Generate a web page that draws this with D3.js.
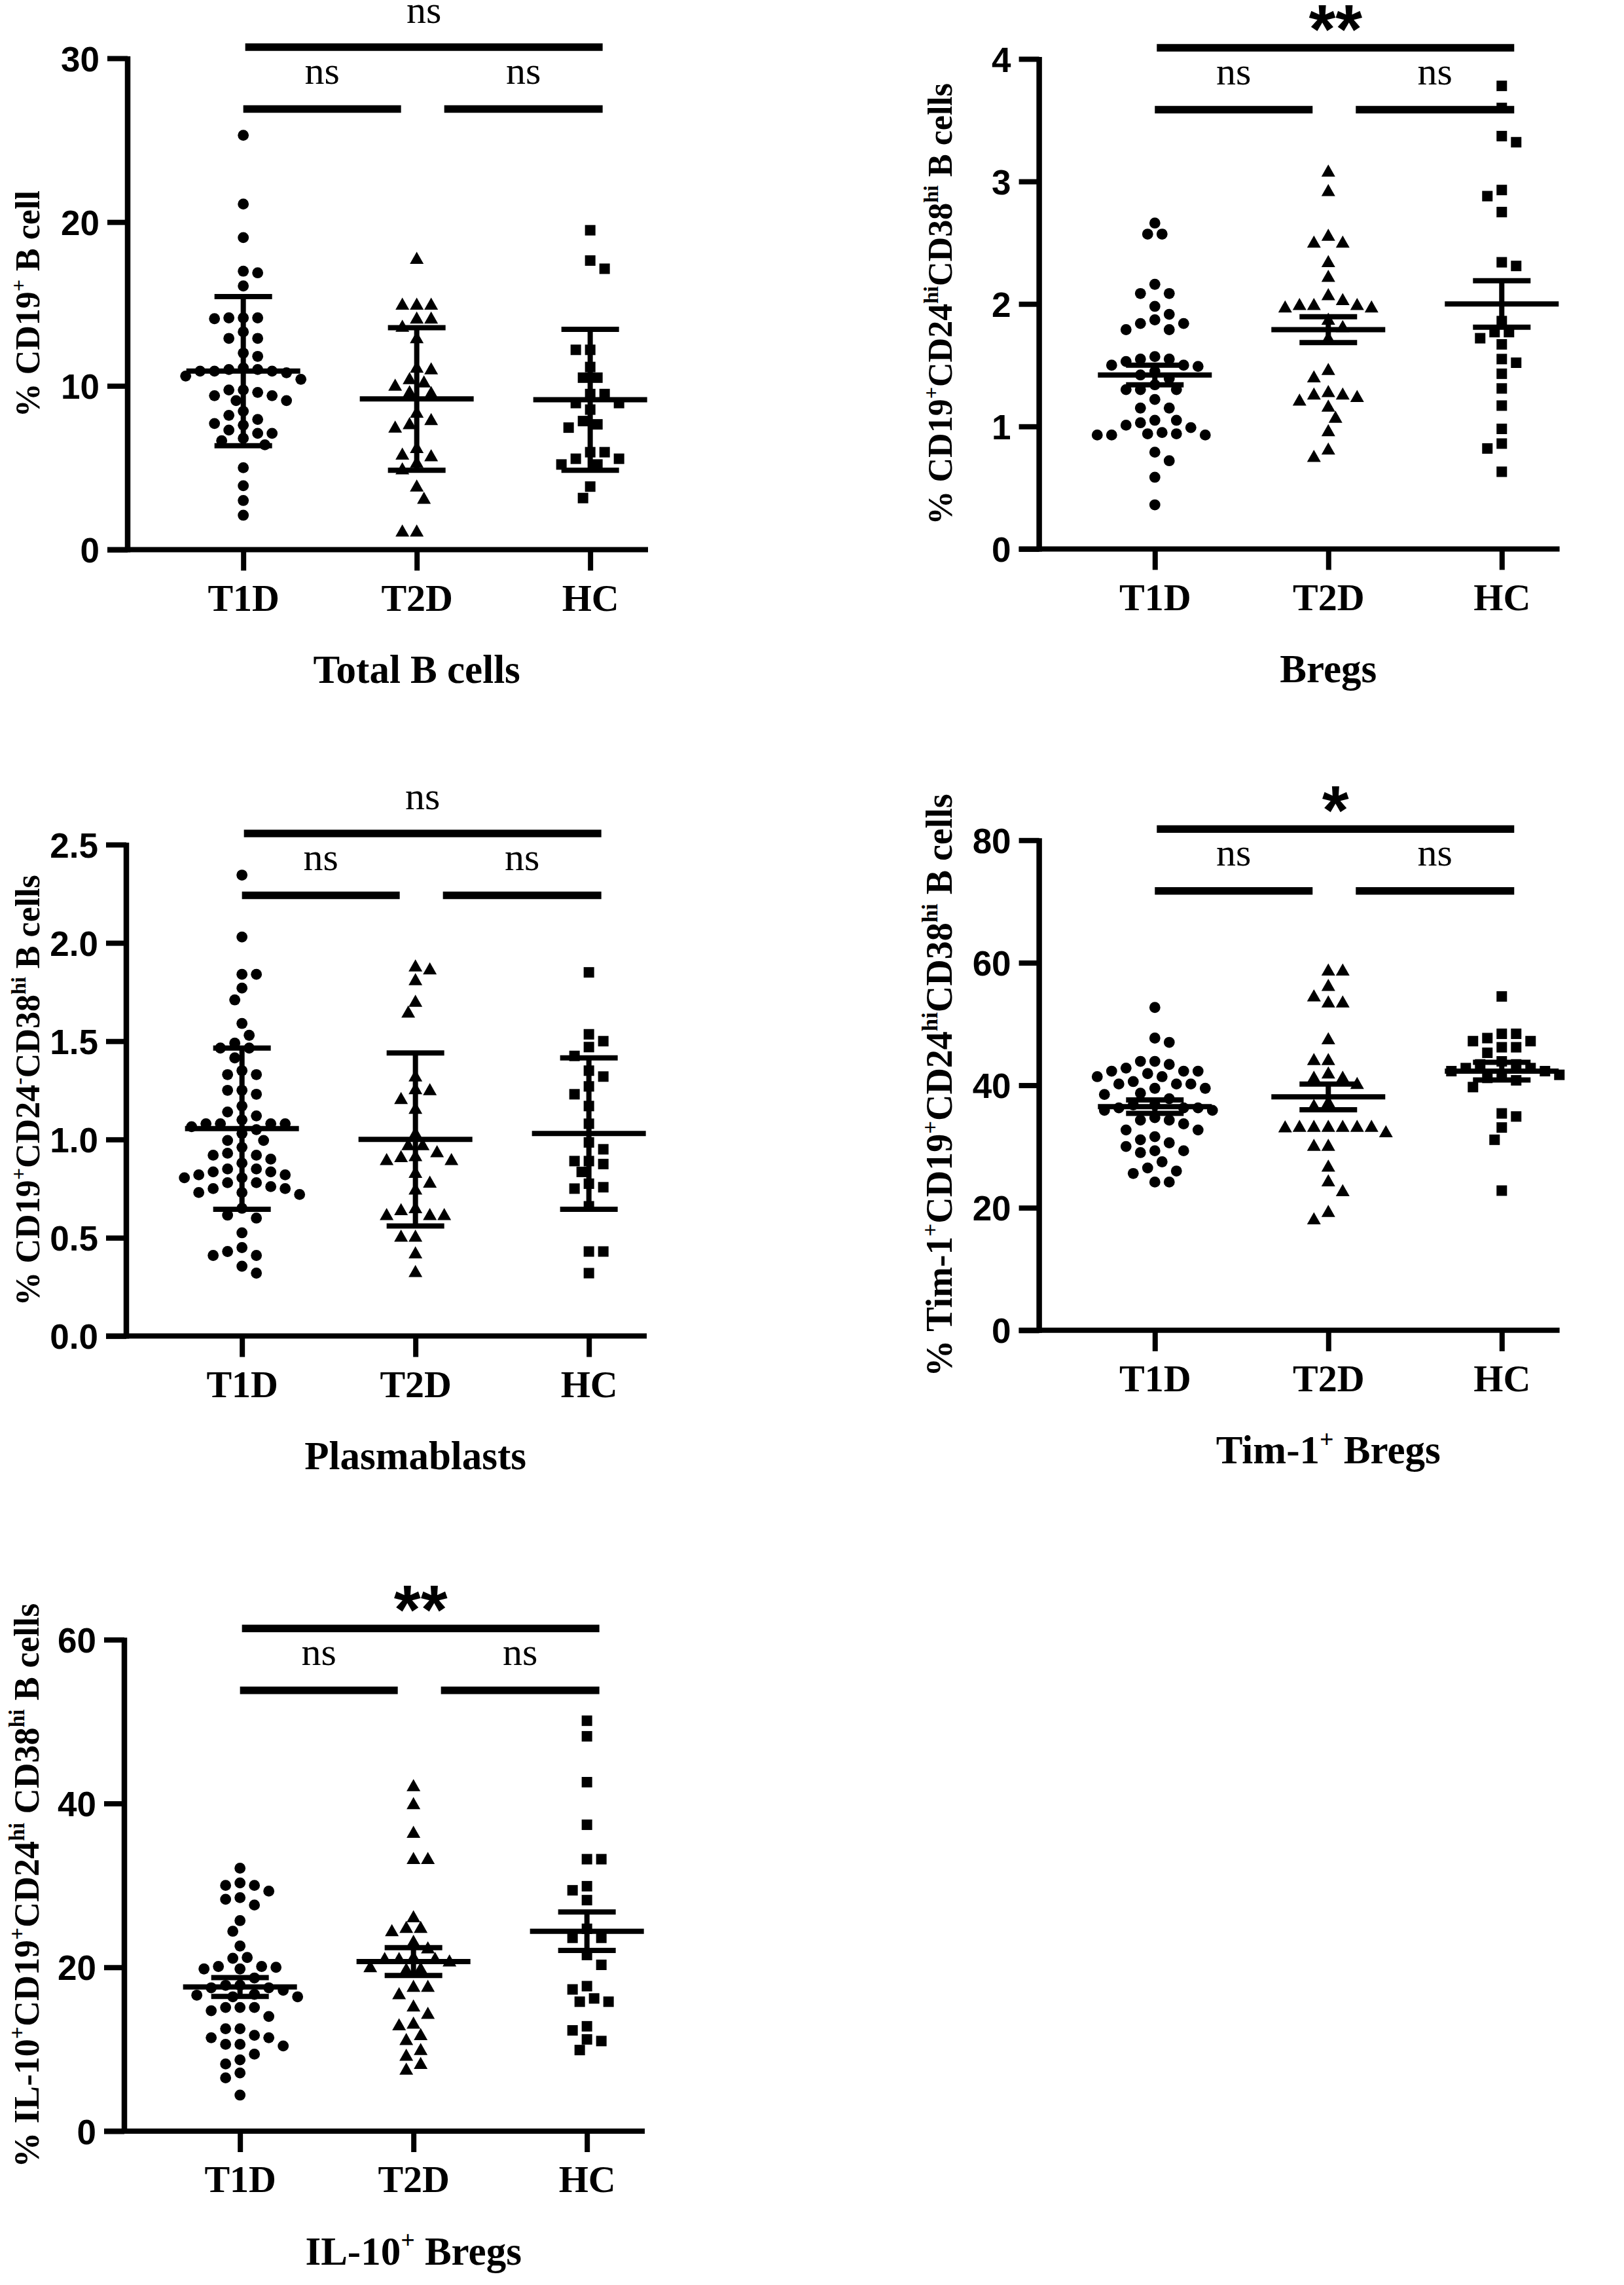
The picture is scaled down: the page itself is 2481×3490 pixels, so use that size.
<!DOCTYPE html>
<html><head><meta charset="utf-8">
<script src="https://cdn.jsdelivr.net/npm/d3@7"></script>
<style>body{margin:0;background:#fff}svg{display:block}</style>
</head><body>
<svg id="c" width="2481" height="3490"></svg>
<script>
// ---------- DATA ----------
const groups = ["T1D", "T2D", "HC"];
const shapes = ["circle", "triangle", "square"];

// Panel 1: Total B cells (% CD19+ B cell), mean ± SD
const totalB_T1D = [25.3, 21.1, 19.05, 17.0, 16.9, 16.1, 14.15, 14.15, 14.15, 14.1, 13.3, 12.9, 12.9, 12.0, 11.8, 11.1, 11.0, 10.9, 10.9, 10.8, 10.9, 11.0, 10.6, 10.4, 9.75, 9.75, 9.6, 9.4, 9.4, 9.1, 9.1, 8.45, 8.2, 7.95, 7.7, 7.6, 7.3, 7.1, 7.1, 6.8, 6.65, 6.4, 5.0, 3.9, 3.0, 2.1];
const totalB_T2D = [17.75, 14.95, 14.95, 14.95, 14.1, 14.1, 13.6, 12.9, 11.1, 11.0, 10.4, 10.2, 10.0, 9.6, 9.55, 8.35, 7.9, 7.65, 7.45, 6.2, 5.8, 5.7, 5.3, 4.9, 3.85, 3.1, 1.1, 1.1];
const totalB_HC = [19.5, 17.65, 17.15, 12.2, 12.2, 11.15, 10.5, 10.5, 9.5, 9.5, 8.95, 8.95, 8.55, 7.85, 7.65, 7.45, 5.95, 5.95, 5.55, 5.55, 5.2, 5.2, 3.85, 3.15];
const totalB_mean = [10.9, 9.2, 9.15];
const totalB_err = [4.55, 4.35, 4.3];
const totalB_ticks = [0, 10, 20, 30];

// Panel 2: Bregs, mean ± SEM
const bregs_T1D = [2.66, 2.57, 2.57, 2.16, 2.085, 2.085, 1.98, 1.915, 1.87, 1.84, 1.84, 1.79, 1.79, 1.57, 1.55, 1.55, 1.53, 1.5, 1.49, 1.5, 1.45, 1.42, 1.39, 1.34, 1.30, 1.30, 1.30, 1.22, 1.15, 1.15, 1.05, 1.05, 1.03, 1.01, 0.99, 0.93, 0.93, 0.94, 0.94, 0.95, 0.93, 0.79, 0.72, 0.585, 0.36];
const bregs_T2D = [3.08, 2.92, 2.555, 2.5, 2.5, 2.34, 2.22, 2.07, 2.03, 1.99, 1.99, 1.99, 1.97, 1.97, 1.87, 1.81, 1.72, 1.46, 1.40, 1.28, 1.26, 1.26, 1.24, 1.21, 1.16, 1.07, 0.96, 0.81, 0.75];
const bregs_HC = [3.78, 3.6, 3.37, 3.32, 2.93, 2.88, 2.75, 2.34, 2.31, 1.86, 1.77, 1.77, 1.72, 1.67, 1.55, 1.52, 1.43, 1.31, 1.17, 0.98, 0.86, 0.82, 0.63];
const bregs_mean = [1.42, 1.79, 2.0];
const bregs_err = [0.08, 0.105, 0.19];
const bregs_ticks = [0, 1, 2, 3, 4];

// Panel 3: Plasmablasts, mean ± SD
const plasma_T1D = [2.345, 2.03, 1.84, 1.84, 1.77, 1.71, 1.59, 1.53, 1.49, 1.465, 1.465, 1.415, 1.35, 1.33, 1.33, 1.25, 1.23, 1.25, 1.17, 1.14, 1.12, 1.10, 1.08, 1.08, 1.08, 1.08, 1.05, 1.065, 1.03, 0.995, 0.995, 0.96, 0.93, 0.92, 0.92, 0.9, 0.88, 0.85, 0.85, 0.835, 0.835, 0.82, 0.82, 0.805, 0.805, 0.78, 0.78, 0.76, 0.75, 0.75, 0.73, 0.73, 0.72, 0.65, 0.615, 0.6, 0.525, 0.45, 0.43, 0.41, 0.41, 0.355, 0.32];
const plasma_T2D = [1.88, 1.865, 1.81, 1.70, 1.645, 1.32, 1.255, 1.25, 1.205, 1.155, 1.03, 0.97, 0.97, 0.935, 0.91, 0.915, 0.895, 0.895, 0.83, 0.78, 0.745, 0.65, 0.64, 0.615, 0.615, 0.615, 0.505, 0.505, 0.42, 0.325];
const plasma_HC = [1.85, 1.535, 1.5, 1.47, 1.425, 1.35, 1.32, 1.27, 1.23, 1.17, 1.08, 0.985, 0.95, 0.89, 0.89, 0.875, 0.835, 0.775, 0.75, 0.757, 0.66, 0.43, 0.43, 0.32];
const plasma_mean = [1.055, 1.0, 1.03];
const plasma_err = [0.41, 0.44, 0.385];
const plasma_ticks = [0, 0.5, 1.0, 1.5, 2.0, 2.5];

// Panel 4: Tim-1+ Bregs, mean ± SEM
const tim_T1D = [52.7, 47.7, 47.0, 43.9, 43.9, 43.4, 42.8, 42.3, 42.3, 42.3, 41.9, 41.4, 41.4, 40.6, 40.2, 40.2, 40.2, 39.5, 39.5, 38.7, 38.5, 37.8, 36.8, 36.8, 36.3, 36.3, 36.3, 35.9, 35.9, 34.7, 34.3, 34.3, 33.7, 32.7, 32.7, 31.6, 31.1, 30.6, 30.0, 29.3, 29.3, 29.0, 27.5, 26.5, 26.0, 25.6, 24.2, 24.2];
const tim_T2D = [58.7, 58.7, 56.2, 54.5, 53.5, 53.5, 47.5, 44.1, 44.1, 41.9, 41.2, 41.2, 40.2, 37.2, 36.6, 33.2, 33.2, 33.2, 33.2, 33.2, 33.2, 32.3, 33.1, 30.1, 30.1, 26.7, 24.3, 22.7, 19.3, 18.1];
const tim_HC = [54.5, 48.4, 48.4, 47.7, 47.2, 47.2, 46.2, 46.2, 45.3, 43.9, 43.4, 43.4, 42.8, 42.8, 42.3, 42.3, 41.7, 41.7, 41.2, 40.8, 39.7, 35.4, 34.9, 33.1, 31.1, 22.8];
const tim_mean = [36.5, 38.1, 42.3];
const tim_err = [1.1, 2.1, 1.45];
const tim_ticks = [0, 20, 40, 60, 80];

// Panel 5: IL-10+ Bregs, mean ± SEM
const il10_T1D = [32.1, 30.3, 30.0, 30.0, 29.3, 28.5, 28.3, 27.6, 25.7, 24.4, 22.6, 21.2, 21.1, 20.1, 20.1, 20.0, 19.8, 19.8, 18.7, 17.8, 17.8, 17.5, 17.5, 17.2, 16.7, 16.6, 16.4, 16.4, 15.1, 15.1, 15.1, 14.7, 14.0, 12.5, 12.5, 11.7, 11.4, 11.4, 10.6, 10.6, 10.4, 9.4, 8.7, 8.2, 7.1, 6.5, 4.4];
const il10_T2D = [42.1, 39.9, 36.4, 33.2, 33.2, 26.1, 24.8, 24.8, 24.4, 23.1, 22.3, 21.0, 21.0, 21.0, 21.2, 20.7, 20.0, 19.8, 19.7, 17.6, 17.6, 16.7, 15.2, 14.3, 13.1, 12.9, 11.7, 11.1, 9.9, 9.2, 8.2, 7.5];
const il10_HC = [50.1, 48.2, 42.6, 37.4, 33.2, 33.2, 29.9, 29.4, 28.2, 24.7, 23.6, 23.6, 21.5, 20.3, 17.7, 17.3, 16.2, 15.8, 15.8, 12.8, 12.3, 11.2, 11.0, 9.9];
const il10_mean = [17.6, 20.7, 24.4];
const il10_err = [1.15, 1.7, 2.35];
const il10_ticks = [0, 20, 40, 60];

// Text: [text, superscript?]
const yLabels = [
  [["% CD19", 0], ["+", 1], [" B cell", 0]],
  [["% CD19", 0], ["+", 1], ["CD24", 0], ["hi", 1], ["CD38", 0], ["hi", 1], [" B cells", 0]],
  [["% CD19", 0], ["+", 1], ["CD24", 0], ["-", 1], ["CD38", 0], ["hi", 1], [" B cells", 0]],
  [["% Tim-1", 0], ["+", 1], ["CD19", 0], ["+", 1], ["CD24", 0], ["hi", 1], ["CD38", 0], ["hi", 1], [" B cells", 0]],
  [["% IL-10", 0], ["+", 1], ["CD19", 0], ["+", 1], ["CD24", 0], ["hi", 1], [" CD38", 0], ["hi", 1], [" B cells", 0]]
];
const titles = [
  [["Total B cells", 0]],
  [["Bregs", 0]],
  [["Plasmablasts", 0]],
  [["Tim-1", 0], ["+", 1], [" Bregs", 0]],
  [["IL-10", 0], ["+", 1], [" Bregs", 0]]
];
// significance: [T1D vs HC, T1D vs T2D, T2D vs HC]
const sigLabels = [
  ["ns", "ns", "ns"],
  ["**", "ns", "ns"],
  ["ns", "ns", "ns"],
  ["*", "ns", "ns"],
  ["**", "ns", "ns"]
];

// ---------- PANELS (data + layout) ----------
const panelData = [
  {series: [totalB_T1D, totalB_T2D, totalB_HC], mean: totalB_mean, err: totalB_err, ticks: totalB_ticks, fmt: d3.format("d")},
  {series: [bregs_T1D, bregs_T2D, bregs_HC], mean: bregs_mean, err: bregs_err, ticks: bregs_ticks, fmt: d3.format("d")},
  {series: [plasma_T1D, plasma_T2D, plasma_HC], mean: plasma_mean, err: plasma_err, ticks: plasma_ticks, fmt: d3.format(".1f")},
  {series: [tim_T1D, tim_T2D, tim_HC], mean: tim_mean, err: tim_err, ticks: tim_ticks, fmt: d3.format("d")},
  {series: [il10_T1D, il10_T2D, il10_HC], mean: il10_mean, err: il10_err, ticks: il10_ticks, fmt: d3.format("d")}
];
const layouts = [
  {x: 195, top: 89, bottom: 839.5, labelX: 60, labelSize: 52},
  {x: 1587.6, top: 90, bottom: 838.4, labelX: 1454, labelSize: 52},
  {x: 193, top: 1290, bottom: 2040.6, labelX: 60, labelSize: 52},
  {x: 1587.6, top: 1283.3, bottom: 2031.8, labelX: 1454, labelSize: 56},
  {x: 190, top: 2504.3, bottom: 3255, labelX: 59, labelSize: 54}
];

const SERIF = "'Liberation Serif', 'Times New Roman', serif";
const SANS = "'Liberation Sans', Arial, sans-serif";
const svg = d3.select("#c");

function rich(textSel, segs, size) {
  let shifted = false;
  segs.forEach(([t, sup]) => {
    const ts = textSel.append("tspan").text(t);
    if (sup && !shifted) { ts.attr("font-size", size * 0.62).attr("dy", -size * 0.4); shifted = true; }
    else if (!sup && shifted) { ts.attr("dy", size * 0.4); shifted = false; }
    else if (sup) ts.attr("font-size", size * 0.62);
  });
}

function swarm(vals, y, cx, slot, minD) {
  const order = vals.map((v, i) => ({v, i})).sort((a, b) => b.v - a.v);
  const placed = [];
  const out = new Array(vals.length);
  let flip = 1;
  order.forEach(o => {
    const py = y(o.v);
    for (let k = 0; k < 60; k++) {
      const cands = k === 0 ? [0] : [flip * k, -flip * k];
      let found = null;
      for (const c of cands) {
        const px = cx + c * slot;
        if (placed.every(p => Math.hypot(p.x - px, p.y - py) >= minD)) { found = px; break; }
      }
      if (found !== null) {
        placed.push({x: found, y: py});
        out[o.i] = {x: found, y: py};
        if (found !== cx) flip = -flip;
        break;
      }
    }
  });
  return out;
}

const symbolPath = {
  circle: d3.symbol().type(d3.symbolCircle).size(Math.PI * 8.4 * 8.4)(),
  square: "M-8,-8H8V8H-8Z",
  triangle: "M0,-11L10.5,7.5L-10.5,7.5Z"
};

panelData.forEach((pd, pi) => {
  const L = layouts[pi];
  const g = svg.append("g");
  const y = d3.scaleLinear().domain([0, d3.max(pd.ticks)]).range([L.bottom, L.top]);
  const x = d3.scaleLinear().domain([1 / 3, 10 / 3]).range([L.x, L.x + 795]);

  // axes lines
  g.append("line").attr("x1", L.x).attr("x2", L.x).attr("y1", L.top - 3).attr("y2", L.bottom + 4)
    .attr("stroke", "#000").attr("stroke-width", 8.5);
  g.append("line").attr("x1", L.x - 31).attr("x2", x(10 / 3)).attr("y1", L.bottom).attr("y2", L.bottom)
    .attr("stroke", "#000").attr("stroke-width", 8);

  // y axis ticks/labels
  const ya = g.append("g").attr("transform", `translate(${L.x},0)`)
    .call(d3.axisLeft(y).tickValues(pd.ticks).tickFormat(pd.fmt).tickSize(31).tickPadding(12));
  ya.select(".domain").remove();
  ya.selectAll(".tick line").attr("stroke", "#000").attr("stroke-width", 8);
  ya.selectAll(".tick text").attr("font-family", SANS).attr("font-weight", "bold")
    .attr("font-size", 53).attr("fill", "#000").attr("dy", "0.36em");

  // x axis ticks/labels
  const xa = g.append("g").attr("transform", `translate(0,${L.bottom})`)
    .call(d3.axisBottom(x).tickValues([1, 2, 3]).tickFormat(d => groups[d - 1]).tickSize(32).tickPadding(20));
  xa.select(".domain").remove();
  xa.selectAll(".tick line").attr("stroke", "#000").attr("stroke-width", 8);
  xa.selectAll(".tick text").attr("font-family", SERIF).attr("font-weight", "bold")
    .attr("font-size", 58).attr("fill", "#000");

  // points
  pd.series.forEach((vals, gi) => {
    const pos = swarm(vals, y, x(gi + 1), 11, 19.5);
    g.append("g").selectAll("path").data(pos).join("path")
      .attr("d", symbolPath[shapes[gi]])
      .attr("transform", d => `translate(${d.x},${d.y})`)
      .attr("fill", "#000");
  });

  // mean & error bars
  pd.mean.forEach((m, gi) => {
    const cx = x(gi + 1), e = pd.err[gi];
    const eg = g.append("g").attr("stroke", "#000").attr("stroke-width", 8);
    eg.append("line").attr("x1", cx).attr("x2", cx).attr("y1", y(m - e)).attr("y2", y(m + e));
    eg.append("line").attr("x1", cx - 44).attr("x2", cx + 44).attr("y1", y(m + e)).attr("y2", y(m + e));
    eg.append("line").attr("x1", cx - 44).attr("x2", cx + 44).attr("y1", y(m - e)).attr("y2", y(m - e));
    eg.append("line").attr("x1", cx - 87).attr("x2", cx + 87).attr("y1", y(m)).attr("y2", y(m));
  });

  // significance brackets
  const topY = L.top - 17, lowY = L.top + 77.5;
  const bars = [
    {x1: x(1) + 3, x2: x(3) + 19, y: topY, lab: sigLabels[pi][0], top: true},
    {x1: x(1), x2: x(2) - 24, y: lowY, lab: sigLabels[pi][1]},
    {x1: x(2) + 42, x2: x(3) + 19, y: lowY, lab: sigLabels[pi][2]}
  ];
  bars.forEach(b => {
    g.append("line").attr("x1", b.x1).attr("x2", b.x2).attr("y1", b.y).attr("y2", b.y)
      .attr("stroke", "#000").attr("stroke-width", 11.5);
    const star = b.lab.indexOf("*") >= 0;
    g.append("text").attr("x", (b.x1 + b.x2) / 2)
      .attr("y", star ? b.y + 8 : b.y - (b.top ? 37 : 39))
      .attr("text-anchor", "middle")
      .attr("font-family", star ? SANS : SERIF)
      .attr("font-weight", star ? "bold" : "normal")
      .attr("font-size", star ? 105 : 60)
      .attr("fill", "#000").text(b.lab);
  });

  // y label
  const yl = g.append("text")
    .attr("transform", `translate(${L.labelX},${(L.top + L.bottom) / 2}) rotate(-90)`)
    .attr("text-anchor", "middle").attr("font-family", SERIF).attr("font-weight", "bold")
    .attr("font-size", L.labelSize).attr("fill", "#000");
  rich(yl, yLabels[pi], L.labelSize);

  // title
  const tt = g.append("text").attr("x", x(2)).attr("y", L.bottom + 203.5)
    .attr("text-anchor", "middle").attr("font-family", SERIF).attr("font-weight", "bold")
    .attr("font-size", 61).attr("fill", "#000");
  rich(tt, titles[pi], 61);
});
</script>
</body></html>
